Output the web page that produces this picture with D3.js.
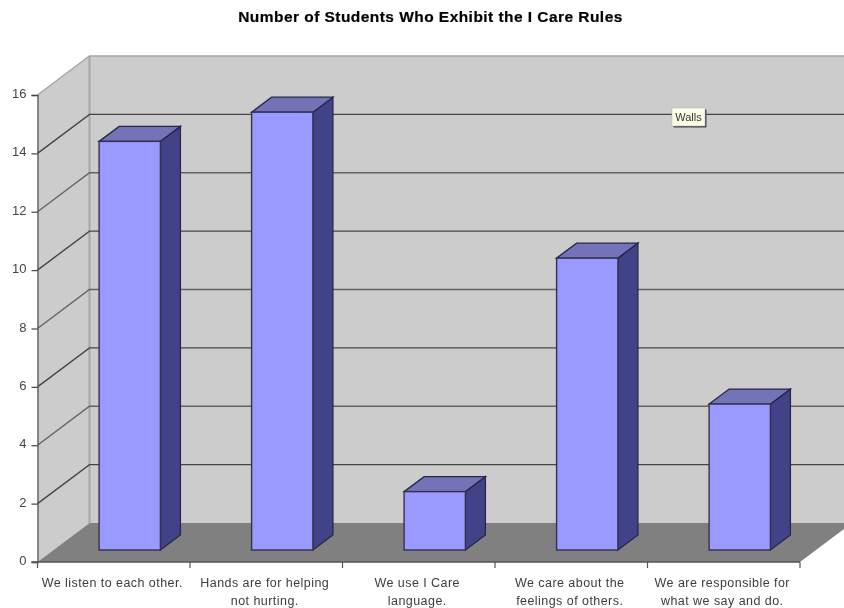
<!DOCTYPE html>
<html>
<head>
<meta charset="utf-8">
<script src="https://cdn.jsdelivr.net/npm/d3@7"></script>
<style>
html,body{margin:0;padding:0;background:#fff;}
svg{display:block;font-family:"Liberation Sans",Arial,sans-serif;}
</style>
</head>
<body>
<svg id="chart" width="844" height="608"></svg>
<script>
var categories = [
    ["We listen to each other."],
    ["Hands are for helping", "not hurting."],
    ["We use I Care", "language."],
    ["We care about the", "feelings of others."],
    ["We are responsible for", "what we say and do."]
];
var values = [14, 15, 2, 10, 5];
var yTicks = [0, 2, 4, 6, 8, 10, 12, 14, 16];

var root = d3.select("#chart");
// the picture is a soft screenshot, so everything gets a very slight blur
root.append("defs").append("filter").attr("id", "soft")
    .attr("x", 0).attr("y", 0)
    .attr("filterUnits", "userSpaceOnUse")
    .attr("width", 844).attr("height", 608)
    .append("feGaussianBlur").attr("stdDeviation", 0.45);
var svg = root.append("g").attr("filter", "url(#soft)");
svg.append("rect").attr("width", 844).attr("height", 608).attr("fill", "#fff");

var y = d3.scaleLinear().domain([0, 16]).range([562, 95]);
var x = d3.scaleBand().domain(d3.range(categories.length)).range([37.5, 800]);

// depth of the 3d box and of the bars
var dx = 52, dy = 39;
var barDx = 20, barDy = 15;
var barShiftX = 16, barShiftY = 12;
var barW = x.bandwidth() * 0.402;

var line = d3.line();

svg.append("text").attr("x", 430.5).attr("y", 22).attr("text-anchor", "middle")
    .attr("font-size", 15.5).attr("font-weight", "bold").attr("fill", "#000")
    .attr("letter-spacing", 0.45).attr("stroke", "#000").attr("stroke-width", 0.2)
    .text("Number of Students Who Exhibit the I Care Rules");

var x0 = x.range()[0], x1 = x.range()[1];

// back wall, side wall, floor
svg.append("path")
    .attr("d", line([[x0 + dx, y(16) - dy], [844, y(16) - dy], [844, y(0) - dy], [x0 + dx, y(0) - dy]]) + "Z")
    .attr("fill", "#cccccc");
svg.append("path")
    .attr("d", line([[x0, y(0)], [x0, y(16)], [x0 + dx, y(16) - dy], [x0 + dx, y(0) - dy]]) + "Z")
    .attr("fill", "#cccccc");
svg.append("path")
    .attr("d", line([[x0, y(0)], [x0 + dx, y(0) - dy], [x1 + dx, y(0) - dy], [x1, y(0)]]) + "Z")
    .attr("fill", "#808080");

// wall edges
svg.append("path")
    .attr("d", line([[x0, y(16)], [x0 + dx, y(16) - dy], [844, y(16) - dy]]))
    .attr("fill", "none").attr("stroke", "#a6a6a6").attr("stroke-width", 1.5);
svg.append("path")
    .attr("d", line([[x0 + dx, y(16) - dy], [x0 + dx, y(0) - dy]]))
    .attr("fill", "none").attr("stroke", "#a6a6a6").attr("stroke-width", 2);

// grid lines on both walls
var grid = yTicks.filter(function(d){ return d > 0 && d < 16; });
svg.append("g").selectAll("path").data(grid).enter().append("path")
    .attr("d", function(d){
        return line([[x0, y(d)], [x0 + dx, y(d) - dy], [844, y(d) - dy]]);
    })
    .attr("fill", "none")
    .attr("stroke", function(d){ return d % 4 === 2 ? "#454545" : "#626262"; })
    .attr("stroke-width", 1.4);

// axes
var yAxis = d3.axisLeft(y).tickValues(yTicks).tickSize(6).tickPadding(5);
var yG = svg.append("g").attr("transform", "translate(" + x0 + ",0)").call(yAxis);
yG.select(".domain").attr("stroke", "#555").attr("stroke-width", 1.3);
yG.selectAll("line").attr("stroke", "#444").attr("stroke-width", 1.2);
yG.selectAll("text").attr("font-size", 13).attr("fill", "#444").attr("font-family", "Liberation Sans")
    .attr("dy", "0.2em");

svg.append("line").attr("x1", x0 - 6).attr("x2", x1).attr("y1", y(0)).attr("y2", y(0))
    .attr("stroke", "#555").attr("stroke-width", 1.3);
svg.append("g").selectAll("line").data(d3.range(categories.length + 1)).enter().append("line")
    .attr("x1", function(i){ return x0 + i * x.step(); })
    .attr("x2", function(i){ return x0 + i * x.step(); })
    .attr("y1", y(0)).attr("y2", y(0) + 6)
    .attr("stroke", "#555").attr("stroke-width", 1.2);

// bars
var bars = svg.append("g").selectAll("g").data(values).enter().append("g");
function barLeft(i){ return x(i) + (x.bandwidth() - barW) / 2 + barShiftX; }
function barBase(){ return y(0) - barShiftY; }
function barTop(d){ return y(d) - barShiftY; }

bars.append("path") // side
    .attr("d", function(d, i){
        var r = barLeft(i) + barW;
        return line([[r, barTop(d)], [r + barDx, barTop(d) - barDy], [r + barDx, barBase() - barDy], [r, barBase()]]) + "Z";
    })
    .attr("fill", "#434388").attr("stroke", "#26264a").attr("stroke-width", 1.3);
bars.append("path") // top
    .attr("d", function(d, i){
        var l = barLeft(i), r = l + barW;
        return line([[l, barTop(d)], [l + barDx, barTop(d) - barDy], [r + barDx, barTop(d) - barDy], [r, barTop(d)]]) + "Z";
    })
    .attr("fill", "#7373b8").attr("stroke", "#26264a").attr("stroke-width", 1.3);
bars.append("rect") // front
    .attr("x", function(d, i){ return barLeft(i); })
    .attr("y", function(d){ return barTop(d); })
    .attr("width", barW)
    .attr("height", function(d){ return barBase() - barTop(d); })
    .attr("fill", "#9999ff").attr("stroke", "#33334f").attr("stroke-width", 1.4);

// category labels
var labels = svg.append("g").selectAll("text").data(categories).enter().append("text")
    .attr("text-anchor", "middle").attr("font-size", 12.5).attr("fill", "#3c3c3c")
    .attr("letter-spacing", 0.45);
labels.selectAll("tspan").data(function(d, i){
        return d.map(function(t){ return {t: t, i: i}; });
    }).enter().append("tspan")
    .attr("x", function(d){ return x(d.i) + x.bandwidth() / 2 - 1.5; })
    .attr("y", function(d, j){ return 586.5 + j * 18; })
    .text(function(d){ return d.t; });

// tooltip on the wall
var tip = svg.append("g").attr("transform", "translate(672,108)");
tip.append("rect").attr("x", 1.5).attr("y", 1.5).attr("width", 33).attr("height", 18).attr("fill", "#444");
tip.append("rect").attr("width", 33).attr("height", 18).attr("fill", "#ffffe8").attr("stroke", "#aaa").attr("stroke-width", 0.5);
tip.append("text").attr("x", 16.5).attr("y", 13).attr("text-anchor", "middle")
    .attr("font-size", 11).attr("fill", "#333").text("Walls");
</script>
</body>
</html>
